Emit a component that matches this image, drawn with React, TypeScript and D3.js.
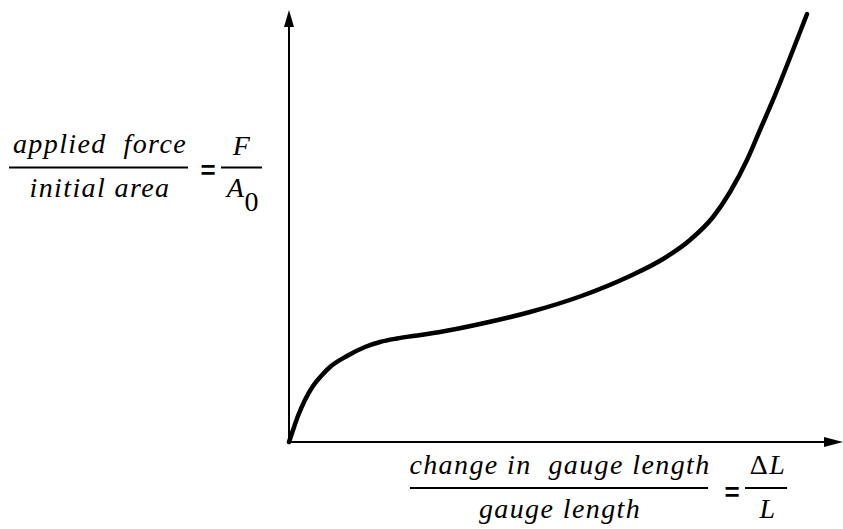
import React from "react";
import * as d3 from "d3";

const strain = [0, 0.73, 1.63, 2.9, 4.36, 6.0, 7.44, 10.53, 13.79, 16.52, 19.6, 22.5, 27.4, 34.66, 43.74, 52.81, 61.89, 67.88, 72.78, 76.96, 80.04, 83.12, 85.48, 87.84, 91.47, 94.01];
const stress = [0, 2.78, 6.02, 9.72, 12.96, 15.51, 17.36, 19.91, 21.99, 23.15, 23.96, 24.54, 25.46, 27.31, 30.09, 33.68, 38.43, 42.36, 46.76, 52.08, 57.87, 65.28, 72.22, 79.17, 90.74, 99.07];

const W = 843, H = 529;
const ox = 289, oy = 442;
const serif = '"Liberation Serif"';

export default function App() {
  const x = d3.scaleLinear().domain([0, 100]).range([ox, 840]);
  const y = d3.scaleLinear().domain([0, 100]).range([oy, 10]);
  const pts = strain.map((s, i) => [s, stress[i]] as [number, number]);
  const line = d3.line<[number, number]>().x(d => x(d[0])).y(d => y(d[1])).curve(d3.curveMonotoneX);
  const it: React.CSSProperties = { fontFamily: serif, fontStyle: "italic", fontSize: 28, letterSpacing: 1.4 };
  const rm: React.CSSProperties = { fontFamily: serif, fontStyle: "normal", fontSize: 28 };
  const eq: React.CSSProperties = { fontFamily: '"Liberation Sans"', fontWeight: "bold", fontSize: 26 };
  return (
    <svg width={W} height={H} style={{ position: "absolute", left: 0, top: 0, background: "#fff" }}>
      <line x1={ox} y1={oy} x2={x(100) - 14} y2={oy} stroke="#000" strokeWidth={2} />
      <polygon points={`${W},${oy} ${x(100) - 16},${oy - 5} ${x(100) - 16},${oy + 5}`} fill="#000" />
      <line x1={ox} y1={oy} x2={ox} y2={y(100) + 14} stroke="#000" strokeWidth={2} />
      <polygon points={`${ox},${y(100)} ${ox - 5},${y(100) + 17} ${ox + 5},${y(100) + 17}`} fill="#000" />
      <path d={line(pts) || ""} fill="none" stroke="#000" strokeWidth={4.5} strokeLinecap="round" />

      <text x={100} y={153} textAnchor="middle" style={it} xmlSpace="preserve">applied  force</text>
      <line x1={9} x2={188} y1={167.5} y2={167.5} stroke="#000" strokeWidth={2} />
      <text x={100} y={197} textAnchor="middle" style={it}>initial area</text>
      <text x={208} y={179} textAnchor="middle" style={eq}>=</text>
      <text x={242} y={155} textAnchor="middle" style={it}>F</text>
      <line x1={221} x2={262} y1={167.5} y2={167.5} stroke="#000" strokeWidth={2} />
      <text x={236} y={197} textAnchor="middle" style={it}>A</text>
      <text x={251.5} y={211} textAnchor="middle" style={rm}>0</text>

      <text x={560} y={474} textAnchor="middle" style={it} xmlSpace="preserve">change in  gauge length</text>
      <line x1={410} x2={708} y1={488} y2={488} stroke="#000" strokeWidth={2} />
      <text x={560} y={518} textAnchor="middle" style={it}>gauge length</text>
      <text x={732} y={501} textAnchor="middle" style={eq}>=</text>
      <text x={768} y={474} textAnchor="middle" style={it}><tspan style={rm}>Δ</tspan>L</text>
      <line x1={745} x2={787} y1={488} y2={488} stroke="#000" strokeWidth={2} />
      <text x={768} y={518} textAnchor="middle" style={it}>L</text>
    </svg>
  );
}
